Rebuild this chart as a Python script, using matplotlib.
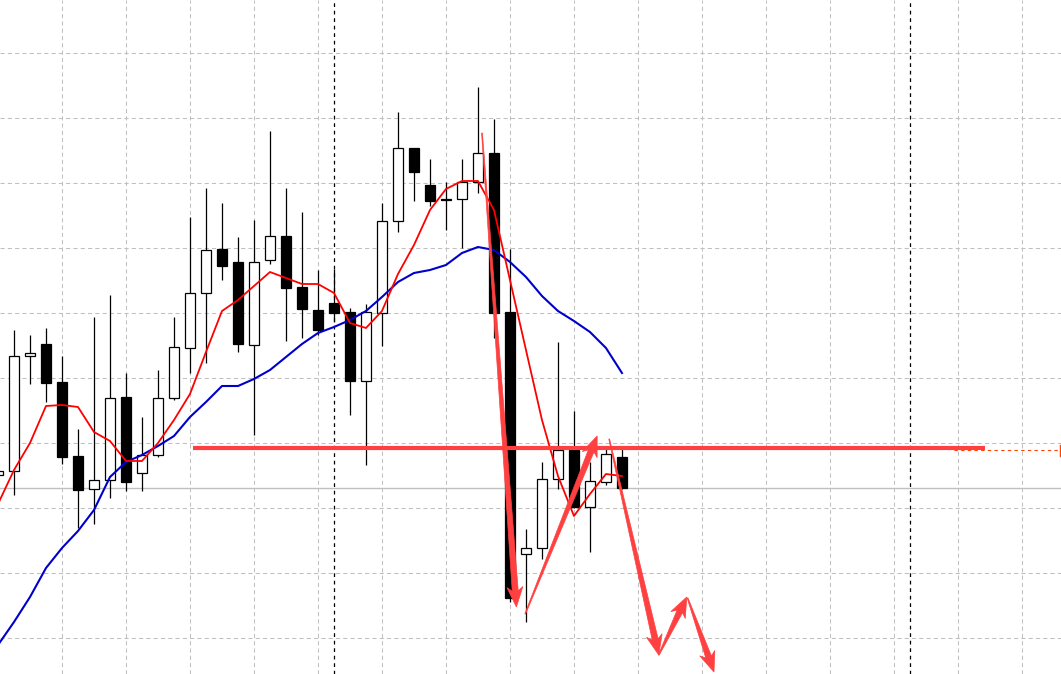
import numpy as np
import matplotlib
matplotlib.use("Agg")
import matplotlib.pyplot as plt
from matplotlib.patches import Rectangle, Polygon
from matplotlib.transforms import IdentityTransform

# bars, index -1 is the bar cut by the left edge
bar_index = list(range(-1, 39))
open_ = [525, 529, 644, 656, 618, 544, 511, 520, 603, 527, 545, 602, 652, 707, 751, 738, 655, 740, 764, 713,
         690, 697, 688, 619, 687, 779, 852, 815, 801, 801, 818, 847, 688, 446, 452, 521, 550, 493, 518, 543]
high = [534, 670, 665, 672, 644, 571, 683, 705, 627, 583, 630, 683, 783, 812, 797, 763, 780, 869, 812, 788,
        730, 731, 692, 696, 797, 888, 852, 841, 818, 841, 913, 881, 751, 471, 538, 658, 589, 538, 553, 552]
low = [522, 505, 616, 598, 536, 472, 476, 502, 509, 509, 543, 600, 627, 637, 720, 648, 565, 736, 659, 662,
       665, 678, 585, 535, 654, 768, 799, 794, 770, 752, 807, 662, 398, 378, 441, 511, 492, 448, 515, 511]
close = [529, 644, 647, 617, 543, 510, 520, 602, 518, 545, 602, 653, 707, 750, 734, 656, 738, 764, 712, 691,
         670, 687, 619, 688, 779, 852, 828, 799, 800, 818, 847, 687, 402, 452, 521, 550, 493, 519, 546, 512]

# moving averages (red = fast, blue = slow)
ma_fast = [496, 530, 557, 594, 595, 593, 568, 559, 539, 539, 557, 580, 606, 648, 689, 700, 714, 728, 722, 716,
           716, 707, 677, 672, 689, 726, 755, 790, 811, 819, 819, 790, 720, 650, 580, 524, 484, 506, 526, 524]
ma_slow = [355, 378, 403, 432, 452, 469, 490, 523, 538, 545, 554, 564, 583, 598, 614, 614, 621, 630, 643, 656,
           667, 673, 680, 689, 703, 718, 727, 730, 735, 747, 753, 750, 738, 723, 704, 689, 679, 668, 652, 627]

# drawn objects
level_price = 552
level_from, level_to = 11.2, 60.7
alert_price = 550
alert_from = 58.75
session_breaks = [20, 56]
arrow_paths = [
    ((29.25, 867), (31.4, 393)),
    ((31.95, 386), (36.45, 564)),
    ((37.2, 561), (40.3, 345)),
    ((40.3, 345), (42.05, 403)),
    ((42.1, 402), (43.75, 328)),
]
grid_prices = [362, 427, 492, 557, 622, 687, 752, 817, 882, 947]
grid_bars = list(range(3, 66, 4))

ARROW_RED = "#ff4040"


def draw_arrow(ax, p0, p1, w0=0.8, w1=6.0, head_w=16.0, head_len=20.0):
    # tapered hand-drawn style arrow, built in pixel space
    a = ax.transData.transform(p0)
    b = ax.transData.transform(p1)
    d = b - a
    u = d / np.hypot(*d)
    n = np.array([-u[1], u[0]])
    base = b - u * head_len
    notch = base + u * 4
    pts = [a + n * w0 / 2, notch + n * w1 / 2, base + n * head_w / 2, b,
           base - n * head_w / 2, notch - n * w1 / 2, a - n * w0 / 2]
    ax.add_patch(Polygon(pts, closed=True, transform=IdentityTransform(),
                         facecolor=ARROW_RED, edgecolor=ARROW_RED, lw=0.5, zorder=6))


fig = plt.figure(figsize=(10.61, 6.74), dpi=100)
ax = fig.add_axes([0, 0, 1, 1])
ax.set_xlim(-0.875, 65.44)
ax.set_ylim(326, 1000)
for s in ax.spines.values():
    s.set_visible(False)

# grid
ax.set_xticks(grid_bars)
ax.set_yticks(grid_prices)
ax.tick_params(length=0, labelbottom=False, labelleft=False)
ax.grid(True, color="#c0c0c0", lw=0.75, linestyle=(0, (4, 3)), zorder=0)
ax.set_axisbelow(True)

# bid line
ax.axhline(close[-1], color="#c0c0c0", lw=1, zorder=1)

# session separators
for b in session_breaks:
    ax.axvline(b, color="black", lw=0.9, linestyle=(0, (3, 3)), zorder=1)

# candles
for i, o, h, l, c in zip(bar_index, open_, high, low, close):
    ax.vlines(i, l, h, color="black", lw=0.9, zorder=2)
    bull = c >= o
    bottom = min(o, c)
    height = max(abs(c - o), 0.5)
    ax.add_patch(Rectangle((i - 0.31, bottom), 0.62, height,
                           facecolor="white" if bull else "black",
                           edgecolor="black", lw=0.9, zorder=3))

# moving averages
ax.plot(bar_index, ma_slow, color="#0000cc", lw=1.5, zorder=4)
ax.plot(bar_index, ma_fast, color="#ff0000", lw=1.3, zorder=4)

# horizontal level + alert line
ax.plot([level_from, level_to], [level_price, level_price], color=ARROW_RED, lw=3, zorder=5,
        solid_capstyle="butt")
ax.plot([alert_from, 65.44], [alert_price, alert_price], color="#ff4500", lw=0.8,
        linestyle=(0, (3, 3)), zorder=5)
ax.plot([65.35, 65.35], [544, 555], color="#ff4500", lw=1, zorder=5)

# arrows
fig.canvas.draw()
for p0, p1 in arrow_paths:
    draw_arrow(ax, p0, p1)

plt.savefig("out.png", dpi=100)
